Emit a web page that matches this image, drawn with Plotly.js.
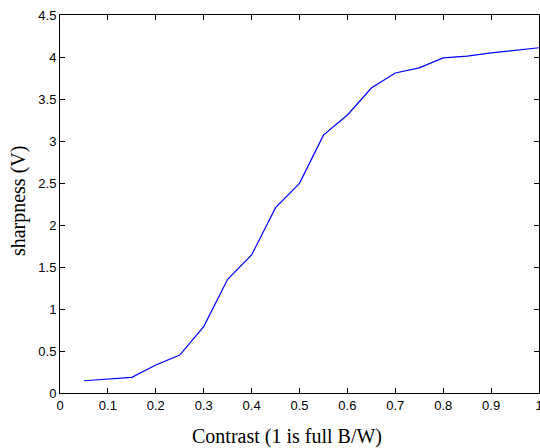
<!DOCTYPE html>
<html>
<head>
<meta charset="utf-8">
<script src="https://cdn.plot.ly/plotly-3.0.1.min.js"></script>
<style>html,body{margin:0;padding:0;background:#fff;}#chart{width:540px;height:448px;}</style>
</head>
<body>
<div id="chart"></div>
<script>
const contrast = [0.05,0.10,0.15,0.20,0.25,0.30,0.35,0.40,0.45,0.50,0.55,0.60,0.65,0.70,0.75,0.80,0.85,0.90,0.95,1.00];
const sharpness = [0.146,0.17,0.187,0.333,0.452,0.79,1.353,1.643,2.206,2.496,3.07,3.31,3.63,3.81,3.87,3.99,4.01,4.05,4.08,4.11];
const xTicks = [0,0.1,0.2,0.3,0.4,0.5,0.6,0.7,0.8,0.9,1];
const xTickText = ['0','0.1','0.2','0.3','0.4','0.5','0.6','0.7','0.8','0.9','1'];
const yTicks = [0,0.5,1,1.5,2,2.5,3,3.5,4,4.5];
const yTickText = ['0','0.5','1','1.5','2','2.5','3','3.5','4','4.5'];
const xTitle = 'Contrast (1 is full B/W)';
const yTitle = 'sharpness (V)';

const trace = {x: contrast, y: sharpness, type:'scatter', mode:'lines', line:{color:'#0000ff', width:1.2}, hoverinfo:'skip'};
const tickFont = {family:"'Liberation Sans', Arial, sans-serif", size:13, color:'#000'};
const titleFont = {family:"'Liberation Serif', 'Times New Roman', serif", size:20, color:'#000'};
const layout = {
  width:540, height:448,
  margin:{l:60, r:1, t:15, b:55},
  paper_bgcolor:'#fff', plot_bgcolor:'#fff',
  showlegend:false,
  xaxis:{range:[0,1], tickvals:xTicks, ticktext:xTickText, ticks:'inside', ticklen:5, tickcolor:'#000',
         showline:true, linecolor:'#000', linewidth:1, mirror:'allticks', showgrid:false, zeroline:false,
         ticklabeloverflow:'allow', tickfont:tickFont},
  yaxis:{range:[0,4.5], tickvals:yTicks, ticktext:yTickText, ticks:'inside', ticklen:5, tickcolor:'#000',
         showline:true, linecolor:'#000', linewidth:1, mirror:'allticks', showgrid:false, zeroline:false,
         tickfont:tickFont},
  annotations:[
    {text:xTitle, xref:'paper', yref:'paper', x:0.474, y:-0.116, xanchor:'center', yanchor:'middle',
     showarrow:false, font:titleFont},
    {text:yTitle, xref:'paper', yref:'paper', x:-0.0866, y:0.509, xanchor:'center', yanchor:'middle',
     textangle:-90, showarrow:false, font:titleFont}
  ]
};
Plotly.newPlot('chart',[trace],layout,{staticPlot:true, displayModeBar:false});
</script>
</body>
</html>
